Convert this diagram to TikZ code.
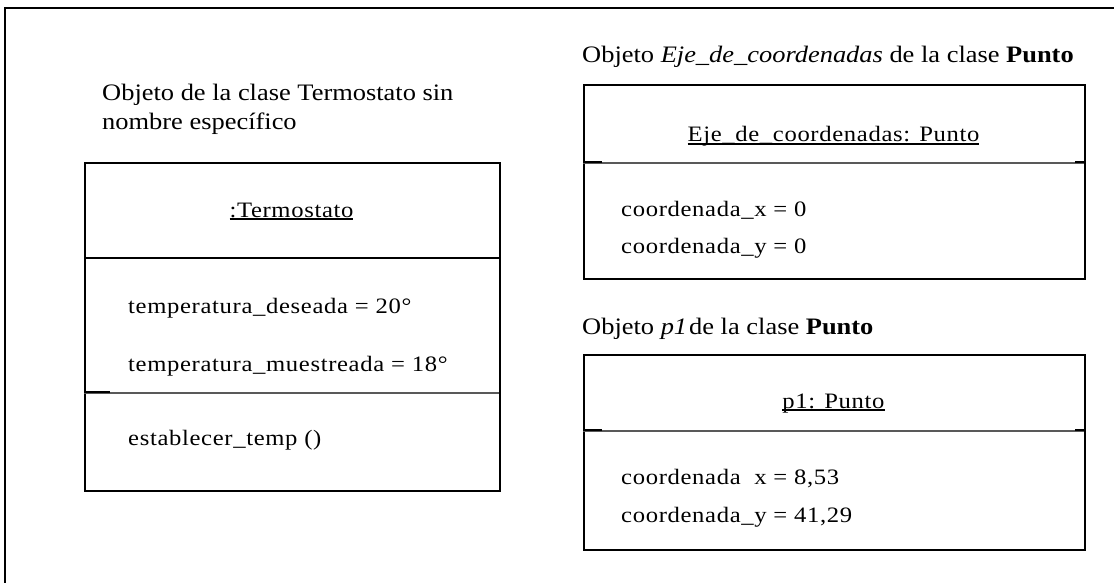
\documentclass[tikz,border=0pt]{standalone}
\usepackage{fontspec}
\setmainfont{Liberation Serif}[FakeStretch=1.12]
\newfontfamily\boxfont{Liberation Serif}[FakeStretch=1.12,LetterSpace=3]
\newcommand\myul[1]{\setbox0\hbox{#1}\rlap{\rule[-2.6pt]{\wd0}{1.6pt}}\box0}
\tikzset{
  frame/.style={line width=2pt,black},
  objbox/.style={draw,line width=2pt,anchor=north west,inner sep=0pt},
  thickdiv/.style={line width=2pt,black},
  thindiv/.style={line width=1.1pt,black!65},
  stub/.style={line width=2pt,black},
  titletext/.style={anchor=base west,inner sep=0pt,font=\fontsize{23.6}{27}\selectfont},
  hdrtext/.style={anchor=base,inner sep=0pt,font=\boxfont\fontsize{22}{26}\selectfont},
  attrtext/.style={anchor=base west,inner sep=0pt,font=\boxfont\fontsize{22}{26}\selectfont},
}
\begin{document}
\begin{tikzpicture}[x=1pt,y=-1pt]
\useasboundingbox (0,0) rectangle (1114,583);
\draw[frame] (5,583) -- (5,8) -- (1114,8);

% left object
\node[titletext] (t1a) at (102,101) {Objeto de la clase Termostato sin};
\node[titletext] (t1b) at (102,130) {nombre específico};
\node[objbox,minimum width=415pt,minimum height=328pt] (bT) at (84,162) {};
\draw[thickdiv] (84,258) -- (499,258);
\draw[thindiv] (84,393) -- (499,393);
\draw[stub] (84,392) -- (110,392);
\node[hdrtext] (hT) at (291.5,217) {\myul{:Termostato}};
\node[attrtext] (aT1) at (128,313) {temperatura\_deseada = 20°};
\node[attrtext] (aT2) at (128,371) {temperatura\_muestreada = 18°};
\node[attrtext] (mT1) at (128,445) {establecer\_temp ()};

% Eje_de_coordenadas
\node[titletext] (t2) at (582,63) {Objeto \textit{Eje\_de\_coordenadas} de la clase \textbf{Punto}};
\node[objbox,minimum width=501pt,minimum height=194pt] (bE) at (583,84) {};
\draw[thindiv] (583,163) -- (1084,163);
\draw[stub] (583,162) -- (602,162);
\draw[stub] (1075,162) -- (1084,162);
\node[hdrtext] (hE) at (833.5,142) {\myul{Eje\_de\_coordenadas: Punto}};
\node[attrtext] (aE1) at (621,216) {coordenada\_x = 0};
\node[attrtext] (aE2) at (621,253) {coordenada\_y = 0};

% p1
\node[titletext] (t3) at (582,334) {Objeto \textit{p1}\hspace{2pt}de la clase \textbf{Punto}};
\node[objbox,minimum width=501pt,minimum height=195pt] (bP) at (583,354) {};
\draw[thindiv] (583,431) -- (1084,431);
\draw[stub] (583,430) -- (602,430);
\draw[stub] (1075,430) -- (1084,430);
\node[hdrtext] (hP) at (833.5,408) {\myul{p1: Punto}};
\node[attrtext] (aP1) at (621,484) {coordenada\ \ x = 8,53};
\node[attrtext] (aP2) at (621,522) {coordenada\_y = 41,29};
\end{tikzpicture}
\end{document}
